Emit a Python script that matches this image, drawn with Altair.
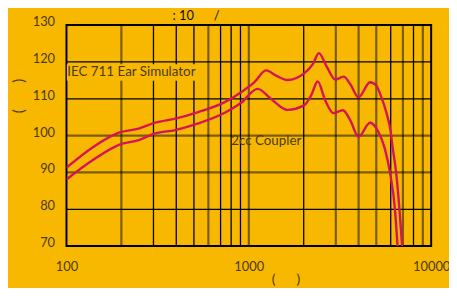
import altair as alt
import pandas as pd

# ---- data ----
ear_freq = [100, 139, 194, 249, 307, 395, 528, 738, 908, 1074, 1242, 1420, 1629, 2009, 2250, 2422,
            2687, 2981, 3311, 3597, 3996, 4622, 5000, 5300, 5700, 6000, 6140, 6430, 6700, 6930]
ear_db = [91.3, 96.8, 100.8, 101.9, 103.5, 104.6, 106.4, 109.1, 111.8, 114.5, 117.7, 116.2, 115.1, 116.9, 119.5, 122.4,
          118.5, 115.2, 116.0, 114.0, 110.4, 114.5, 113.6, 110.8, 106.0, 101.0, 97.0, 89.9, 80.0, 70.0]

cpl_freq = [100, 139, 194, 249, 307, 395, 528, 738, 908, 1118, 1322, 1629, 2009, 2200, 2387, 2623,
            2916, 3285, 3597, 3996, 4622, 5140, 5560, 5950, 6330, 6540]
cpl_db = [88.1, 93.3, 97.5, 98.8, 100.6, 101.5, 103.3, 106.2, 108.9, 112.7, 110.0, 107.0, 108.2, 111.0, 114.7, 109.6,
          106.1, 106.9, 104.2, 99.7, 103.5, 101.0, 96.6, 89.9, 80.0, 70.0]

vlines_thick = [200, 600, 1000, 3000, 4000, 5000, 7000, 9000]
vlines_thin = [300, 400, 500, 700, 800, 900, 2000, 6000, 8000]
hlines_thick = [90, 100]
hlines_thin = [80, 110, 120]

y_ticks = [70, 80, 90, 100, 110, 120, 130]
x_ticks = [100, 1000, 10000]

NB = "\u00a0"
title_text = ":" + NB + "10" + NB * 6 + "/"
y_title = "(" + NB * 7 + ")"
x_title = "(" + NB * 6 + ")"

BG = "#F9B800"
TXT = "#4A3A0C"
LINE = "#D4145A"
FONT = "Lato"

curves = pd.concat([
    pd.DataFrame({"f": ear_freq, "db": ear_db, "s": "ear"}),
    pd.DataFrame({"f": cpl_freq, "db": cpl_db, "s": "cpl"}),
])

xs = alt.Scale(type="log", domain=[100, 10000], nice=False)
ys = alt.Scale(domain=[70, 130], nice=False)

xaxis = alt.Axis(values=x_ticks, format="d", ticks=False, domain=False, grid=False,
                 labelPadding=15, labelFontSize=13, labelColor=TXT, labelFont=FONT,
                 labelOverlap=False, labelFlush=False,
                 title=x_title, titleFont=FONT, titleFontSize=14, titleFontWeight="normal",
                 titleColor=TXT, titleX=221, titleY=27)
yaxis = alt.Axis(values=y_ticks, ticks=False, domain=False, grid=False,
                 labelPadding=12, labelFontSize=13, labelColor=TXT, labelFont=FONT,
                 labelOverlap=False, labelFlush=False, labelOffset=-3.5,
                 title=y_title, titleFont=FONT, titleFontSize=15, titleFontWeight="normal",
                 titleColor=TXT, titleX=-40, titleY=71)

X = lambda f: alt.X(f, scale=xs, axis=xaxis)
Y = lambda f: alt.Y(f, scale=ys, axis=yaxis)

vthick = alt.Chart(pd.DataFrame({"f": vlines_thick})).mark_rule(
    color="#000", opacity=0.5, strokeWidth=2.2).encode(x=X("f:Q"))
vthin = alt.Chart(pd.DataFrame({"f": vlines_thin})).mark_rule(
    color="#000", strokeWidth=1.3).encode(x=X("f:Q"))
hthick = alt.Chart(pd.DataFrame({"db": hlines_thick})).mark_rule(
    color="#000", opacity=0.5, strokeWidth=2.2).encode(y=Y("db:Q"))
hthin = alt.Chart(pd.DataFrame({"db": hlines_thin})).mark_rule(
    color="#000", strokeWidth=1.3).encode(y=Y("db:Q"))

box = alt.Chart(pd.DataFrame({"x1": [100.5], "x2": [535], "y1": [114.9], "y2": [119.4]})).mark_rect(
    color=BG).encode(x=X("x1:Q"), x2="x2", y=Y("y1:Q"), y2="y2")

lines = alt.Chart(curves).mark_line(color=LINE, strokeWidth=2.4, interpolate="monotone", clip=True).encode(
    x=X("f:Q"), y=Y("db:Q"), detail="s:N")

labels = alt.Chart(pd.DataFrame({
    "f": [101, 800], "db": [117.3, 98.6], "t": ["IEC 711 Ear Simulator", "2cc Coupler"]})).mark_text(
    align="left", baseline="middle", font=FONT, fontSize=13.5, color=TXT).encode(
    x=X("f:Q"), y=Y("db:Q"), text="t:N")

title = alt.Chart(pd.DataFrame({"t": [title_text]})).mark_text(
    align="left", baseline="middle", font=FONT, fontSize=13, color="#111").encode(
    x=alt.value(107), y=alt.value(-9.5), text="t:N")

chart = alt.layer(vthick, vthin, hthick, hthin, box, lines, labels, title).properties(
    width=368, height=223,
    autosize=alt.AutoSizeParams(type="none"),
    padding={"left": 59, "top": 16, "right": 18, "bottom": 41},
    background=BG,
).configure_view(fill=BG, stroke="#000", strokeWidth=2)

chart.save("out.html", embed_options={"renderer": "svg", "actions": False})
